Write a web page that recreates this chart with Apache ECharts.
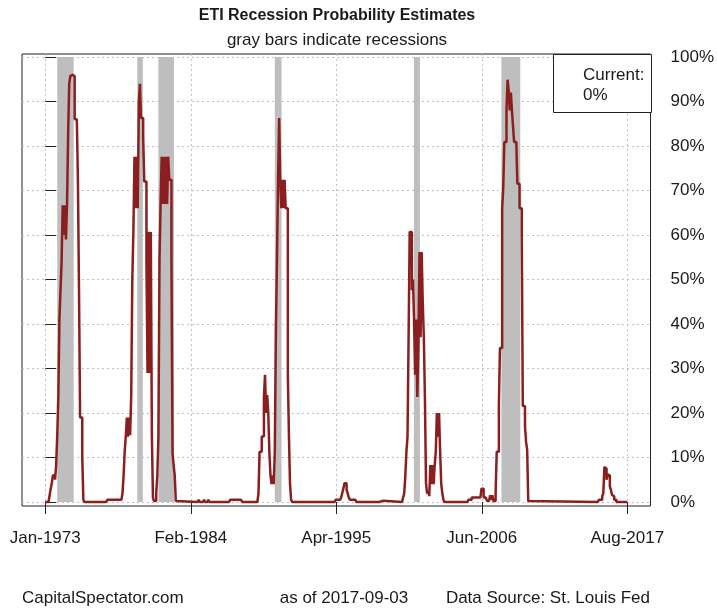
<!DOCTYPE html>
<html>
<head>
<meta charset="utf-8">
<script src="https://cdn.jsdelivr.net/npm/echarts@6/dist/echarts.min.js"></script>
<style>
html,body{margin:0;padding:0;background:#fff;}
#c{width:717px;height:610px;}
</style>
</head>
<body>
<div id="c"></div>
<script>
// Months counted from Jan-1973 (0) to Aug-2017 (535)
const monthIdx = [
  0,3,4,5,6,7,8,9,10,11,12,13,14,15,16,17,18,19,20,21,22,23,24,25,26,27,28,29,30,31,32,33,34,35,36,
  56,57,70,
  71,72,73,74,75,76,77,78,79,80,81,82,83,84,85,86,87,88,89,90,91,92,93,94,95,96,97,98,99,100,101,
  102,103,104,105,106,107,108,109,110,111,112,113,114,115,116,117,118,119,120,121,
  140,141,142,145,146,147,149,150,151,169,170,180,181,
  195,196,197,198,199,200,201,202,203,204,205,206,207,208,209,210,211,212,213,214,215,216,217,218,219,220,221,222,223,224,225,226,227,
  266,267,271,272,273,274,275,276,277,278,279,280,285,286,
  307,308,311,312,
  328,329,330,331,332,333,334,335,336,337,338,339,340,341,342,343,344,345,346,347,348,349,350,351,352,353,354,355,356,357,358,359,360,361,362,363,364,365,366,367,
  388,389,392,400,401,402,403,405,406,408,409,410,411,412,413,414,
  415,416,417,418,419,420,421,422,423,424,425,426,427,428,429,430,431,432,433,434,435,436,437,438,439,440,441,442,443,444,445,
  508,509,512,513,514,515,516,517,518,519,520,521,522,523,525,535
];
const probPct = [
  0,0,1.5,3,4.2,6,6,5,8.3,15,23.7,41,47.6,54,66.7,60,66.7,59,66.7,82.5,94,95.7,96,96,95.7,86,86,86,72.4,47.6,19,19,10.2,0.5,0,
  0,0.5,0.5,
  2,6,11.3,14.7,19,14.7,19,15,24,50,60.7,77.6,66,77.6,66,89.7,94,86.3,86.3,82,72,72,54,29,60.7,29,60.7,14.7,0.9,0.2,0.2,
  2,6,14.7,54.4,67,77.6,67,77.6,67,77.6,67,77.6,72.4,72.4,54,11,8.3,6,0.2,0,
  0,0.5,0,0,0.5,0,0,0.5,0,0,0.5,0.5,0,
  0,2,11.3,11.3,14.7,14.7,23.6,28.6,20,24,20,11.3,6,4,6,4,11.3,38.6,54.4,72.4,86.3,72.4,66,72.4,66,72.4,66,66,28.6,14.7,4,0.5,0,
  0,0.5,0.5,1,2,3,4.2,4.2,2.7,2,1,0.5,0.5,0,
  0,0.3,0.3,0,
  0,1,2,6,11.3,14.7,37,60.7,60.7,47.6,50,41,28.6,41,23.6,35,56.2,37,56.2,45,37,23.6,4.2,2,2,1.3,8.3,4,8.3,4,8.3,11.3,20,14.7,20,11.3,4,2,0.5,0,
  0,0.5,1,1,3,3,1,1,0.3,0.3,1.5,0.5,1.5,0.2,0.2,2,
  11.3,11.3,21.9,34.6,34.6,66,70.5,80.9,80.9,88,94.9,92.5,88,92,88,84.4,80.9,80.9,80.9,71.5,71.5,66,66,60.3,21.6,21.6,17,13.5,11.7,0.2,0,
  0,0.5,1.3,2,7.9,7.5,5,6.2,6,3.5,2.7,1.6,1.3,0.5,0,0
];
const recessionStart = [11, 84.6, 104, 211, 338.9, 419.3];
const recessionEnd   = [26.1, 89.7, 118.3, 217.2, 344.4, 436.7];
const xTickMonths = [0, 133.75, 267.5, 401.25, 535];
const yTicks = [0,10,20,30,40,50,60,70,80,90,100];
const monthNames = ['Jan','Feb','Mar','Apr','May','Jun','Jul','Aug','Sep','Oct','Nov','Dec'];
const startYear = 1973;
const titleText = 'ETI Recession Probability Estimates';
const subtitleText = 'gray bars indicate recessions';
const legendLines = ['Current:', '0%'];
const footerLeft = 'CapitalSpectator.com';
const footerMid = 'as of 2017-09-03';
const footerRight = 'Data Source: St. Louis Fed';

function monthLabel(v){
  const m = Math.floor(v + 1e-6);
  return monthNames[m % 12] + '-' + (startYear + Math.floor(m / 12));
}
const lineData = monthIdx.map((m, i) => [m, probPct[i]]);
const areas = recessionStart.map((s, i) => [{xAxis: s, yAxis: 0}, {xAxis: recessionEnd[i], yAxis: 100}]);

const FONT = '"Liberation Sans", Arial, sans-serif';
const TXT = '#1a1a1a';
const chart = echarts.init(document.getElementById('c'), null, {renderer: 'canvas'});
chart.setOption({
  animation: false,
  backgroundColor: '#fff',
  grid: {left: 22, right: 65, top: 54, bottom: 104, show: true, borderColor: '#222', borderWidth: 1, backgroundColor: 'transparent'},
  xAxis: {
    type: 'value', min: -21.4, max: 556.4,
    axisLine: {show: false},
    axisTick: {show: true, customValues: xTickMonths, length: 12, lineStyle: {color: '#222', width: 1}},
    axisLabel: {customValues: xTickMonths, formatter: monthLabel, margin: 24, fontSize: 17, color: TXT, fontFamily: FONT},
    splitLine: {show: true, lineStyle: {color: '#c0c0c0', type: [2, 3], width: 1}}
  },
  yAxis: {
    type: 'value', position: 'right', min: -0.899, max: 100.674,
    axisLine: {show: false},
    axisTick: {show: true, customValues: yTicks, length: 11, lineStyle: {color: '#222', width: 1}},
    axisLabel: {customValues: yTicks, formatter: v => Math.round(v) + '%', margin: 20, fontSize: 17, color: TXT, fontFamily: FONT},
    splitLine: {show: true, lineStyle: {color: '#c0c0c0', type: [2, 3], width: 1}}
  },
  series: [{
    type: 'line', data: lineData, symbol: 'none', z: 3, step: 'end',
    lineStyle: {color: '#8B1F1F', width: 2.5},
    markArea: {silent: true, itemStyle: {color: '#BEBEBE'}, data: areas}
  }],
  graphic: [
    {type: 'text', x: 337, y: 16, style: {text: titleText, font: 'bold 16px ' + FONT, textAlign: 'center', textVerticalAlign: 'middle', align: 'center', verticalAlign: 'middle', fill: TXT}},
    {type: 'text', x: 337, y: 40, style: {text: subtitleText, font: '17px ' + FONT, textAlign: 'center', textVerticalAlign: 'middle', align: 'center', verticalAlign: 'middle', fill: TXT}},
    {type: 'rect', z: 100, shape: {x: 553.5, y: 54.5, width: 98, height: 58}, style: {fill: '#fff', stroke: '#222', lineWidth: 1}},
    {type: 'text', z: 101, x: 583, y: 75, style: {text: legendLines[0], font: '17px ' + FONT, textAlign: 'left', textVerticalAlign: 'middle', align: 'left', verticalAlign: 'middle', fill: TXT}},
    {type: 'text', z: 101, x: 583, y: 95, style: {text: legendLines[1], font: '17px ' + FONT, textAlign: 'left', textVerticalAlign: 'middle', align: 'left', verticalAlign: 'middle', fill: TXT}},
    {type: 'text', x: 22, y: 598, style: {text: footerLeft, font: '17px ' + FONT, textAlign: 'left', textVerticalAlign: 'middle', align: 'left', verticalAlign: 'middle', fill: TXT}},
    {type: 'text', x: 344, y: 598, style: {text: footerMid, font: '17px ' + FONT, textAlign: 'center', textVerticalAlign: 'middle', align: 'center', verticalAlign: 'middle', fill: TXT}},
    {type: 'text', x: 650, y: 598, style: {text: footerRight, font: '17px ' + FONT, textAlign: 'right', textVerticalAlign: 'middle', align: 'right', verticalAlign: 'middle', fill: TXT}}
  ]
});
</script>
</body>
</html>
